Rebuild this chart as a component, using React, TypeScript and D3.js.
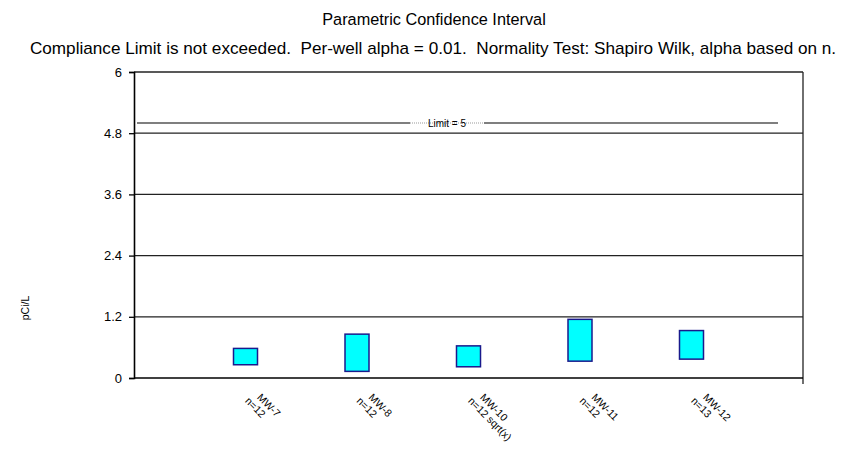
import { useEffect, useRef } from 'react';
import * as d3 from 'd3';

// Data
const wells = ['MW-7', 'MW-8', 'MW-10', 'MW-11', 'MW-12'];
const wellNotes = ['n=12', 'n=12', 'n=12 sqrt(x)', 'n=12', 'n=13'];
const lowerLimits = [0.26, 0.13, 0.22, 0.33, 0.37];
const upperLimits = [0.58, 0.86, 0.63, 1.15, 0.93];
const yTicks = [0, 1.2, 2.4, 3.6, 4.8, 6];
const complianceLimit = 5;

const title = 'Parametric Confidence Interval';
const subtitle =
  'Compliance Limit is not exceeded.  Per-well alpha = 0.01.  Normality Test: Shapiro Wilk, alpha based on n.';

const FONT = '"Liberation Sans", Arial, sans-serif';

export default function App() {
  const svgRef = useRef<SVGSVGElement>(null);

  useEffect(() => {
    if (!svgRef.current) return;
    const svg = d3.select(svgRef.current);
    svg.selectAll('*').remove();

    const width = 863;
    const height = 452;
    const left = 134;
    const right = 803;
    const top = 72;
    const bottom = 378;

    svg.attr('width', width).attr('height', height);

    // Empty slots at both ends, wells sit on the inner points
    const x = d3
      .scalePoint<string>()
      .domain(['_start', ...wells, '_end'])
      .range([left, right]);
    const y = d3.scaleLinear().domain([0, 6]).range([bottom, top]);

    // Titles
    svg
      .append('text')
      .attr('x', 434)
      .attr('y', 25)
      .attr('text-anchor', 'middle')
      .attr('font-family', FONT)
      .attr('font-size', 16.3)
      .text(title);

    svg
      .append('text')
      .attr('x', 433)
      .attr('y', 54)
      .attr('text-anchor', 'middle')
      .attr('font-family', FONT)
      .attr('font-size', 17.15)
      .style('white-space', 'pre')
      .text(subtitle);

    // Gridlines
    svg
      .append('g')
      .selectAll('line')
      .data(yTicks.filter((t) => t > 0))
      .join('line')
      .attr('x1', left)
      .attr('x2', right)
      .attr('y1', (d) => y(d))
      .attr('y2', (d) => y(d))
      .attr('stroke', '#222')
      .attr('stroke-width', 1.3);

    // Right border
    svg
      .append('line')
      .attr('x1', right)
      .attr('x2', right)
      .attr('y1', top)
      .attr('y2', bottom + 6)
      .attr('stroke', '#222')
      .attr('stroke-width', 1.3);

    // Y axis
    const yAxis = svg
      .append('g')
      .attr('transform', `translate(${left},0)`)
      .call(
        d3
          .axisLeft(y)
          .tickValues(yTicks)
          .tickSize(5)
          .tickPadding(7)
          .tickFormat((d) => String(d))
      );
    yAxis.select('.domain').attr('stroke', '#000').attr('stroke-width', 1.6);
    yAxis.selectAll('.tick line').attr('stroke', '#000').attr('stroke-width', 1.3);
    yAxis
      .selectAll('.tick text')
      .attr('font-family', FONT)
      .attr('font-size', 13)
      .attr('fill', '#000');

    // X axis line
    svg
      .append('line')
      .attr('x1', left)
      .attr('x2', right)
      .attr('y1', bottom)
      .attr('y2', bottom)
      .attr('stroke', '#000')
      .attr('stroke-width', 1.6);

    // Y axis title
    svg
      .append('text')
      .attr('transform', `translate(29,308) rotate(-90)`)
      .attr('text-anchor', 'middle')
      .attr('font-family', FONT)
      .attr('font-size', 10.5)
      .text('pCi/L');

    // Compliance limit line with label
    const limY = y(complianceLimit);
    const limX1 = 137;
    const limX2 = 778;
    svg
      .append('line')
      .attr('x1', limX1)
      .attr('x2', 410)
      .attr('y1', limY)
      .attr('y2', limY)
      .attr('stroke', '#000')
      .attr('stroke-width', 1.1);
    svg
      .append('line')
      .attr('x1', 410)
      .attr('x2', 484)
      .attr('y1', limY)
      .attr('y2', limY)
      .attr('stroke', '#999')
      .attr('stroke-width', 1)
      .attr('stroke-dasharray', '1,1');
    svg
      .append('line')
      .attr('x1', 484)
      .attr('x2', limX2)
      .attr('y1', limY)
      .attr('y2', limY)
      .attr('stroke', '#000')
      .attr('stroke-width', 1.1);
    svg
      .append('text')
      .attr('x', 447)
      .attr('y', limY + 3.5)
      .attr('text-anchor', 'middle')
      .attr('font-family', FONT)
      .attr('font-size', 10)
      .text(`Limit = ${complianceLimit}`);

    // Confidence interval boxes
    const boxW = 24;
    svg
      .append('g')
      .selectAll('rect')
      .data(wells)
      .join('rect')
      .attr('x', (d) => (x(d) ?? 0) - boxW / 2)
      .attr('y', (_, i) => y(upperLimits[i]))
      .attr('width', boxW)
      .attr('height', (_, i) => y(lowerLimits[i]) - y(upperLimits[i]))
      .attr('fill', '#00ffff')
      .attr('stroke', '#1a1a8c')
      .attr('stroke-width', 1.5);

    // Rotated category labels
    const labels = svg
      .append('g')
      .selectAll('text')
      .data(wells)
      .join('text')
      .attr('transform', (d) => `translate(${(x(d) ?? 0) + 11},${bottom + 20}) rotate(45)`)
      .attr('font-family', FONT)
      .attr('font-size', 10.5);
    labels
      .append('tspan')
      .attr('x', 0)
      .attr('dy', 0)
      .text((d) => d);
    labels
      .append('tspan')
      .attr('x', -6)
      .attr('dy', '1.05em')
      .text((_, i) => wellNotes[i]);
  }, []);

  return (
    <div style={{ position: 'absolute', left: 0, top: 0, background: '#fff' }}>
      <svg ref={svgRef} />
    </div>
  );
}
